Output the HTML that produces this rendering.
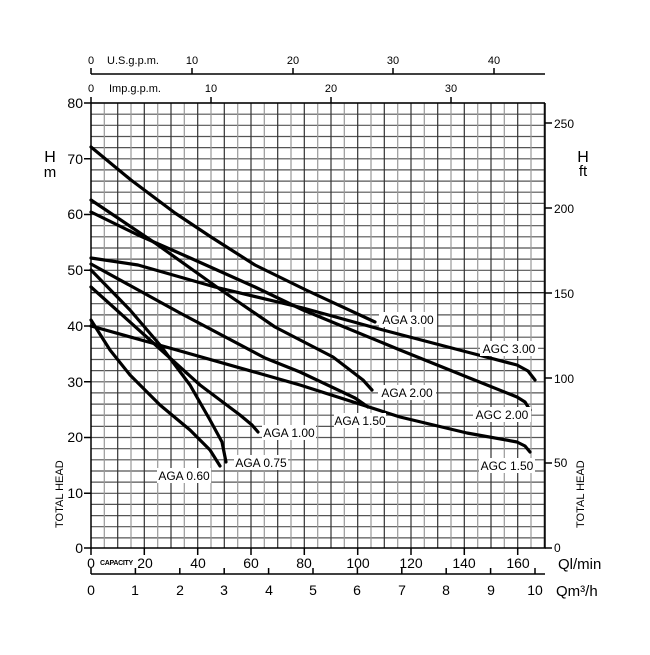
<!DOCTYPE html>
<html><head><meta charset="utf-8"><style>
html,body{margin:0;padding:0;background:#fff}
text{font-family:"Liberation Sans",sans-serif;fill:#000}
</style></head><body>
<svg width="650" height="650" viewBox="0 0 650 650" xmlns="http://www.w3.org/2000/svg">
<g stroke="#555" stroke-width="1.2">
<path d="M91 103.0H545M91 114.2H545M91 125.3H545M91 136.5H545M91 147.6H545M91 158.8H545M91 169.9H545M91 181.1H545M91 192.2H545M91 203.4H545M91 214.5H545M91 225.7H545M91 236.8H545M91 248.0H545M91 259.1H545M91 270.3H545M91 281.4H545M91 292.6H545M91 303.7H545M91 314.9H545M91 326.0H545M91 337.2H545M91 348.3H545M91 359.5H545M91 370.6H545M91 381.8H545M91 392.9H545M91 404.1H545M91 415.2H545M91 426.4H545M91 437.5H545M91 448.7H545M91 459.8H545M91 471.0H545M91 482.1H545M91 493.3H545M91 504.4H545M91 515.6H545M91 526.7H545M91 537.9H545"/>
</g>
<g stroke="#333" stroke-width="1.2">
<path d="M117.7 103V548M144.3 103V548M171 103V548M197.7 103V548M224.3 103V548M251 103V548M277.7 103V548M304.3 103V548M331 103V548M357.7 103V548M384.3 103V548M411 103V548M437.7 103V548M464.3 103V548M491 103V548M517.7 103V548M544.3 103V548"/>
</g>
<g stroke="#999" stroke-width="1.2">
<path d="M104.3 103V548M131 103V548M157.7 103V548M184.3 103V548M211 103V548M237.7 103V548M264.3 103V548M291 103V548M317.7 103V548M344.3 103V548M371 103V548M397.7 103V548M424.3 103V548M451 103V548M477.7 103V548M504.3 103V548M531 103V548"/>
</g>
<path d="M91 292.6H545" stroke="#222" stroke-width="1.2"/>
<g stroke="#000" stroke-width="1.5" fill="none">
<path d="M91 103V548H545V103"/>
<path d="M91 103H545"/>
<path d="M84 103H91M84 158.8H91M84 214.5H91M84 270.3H91M84 326H91M84 381.8H91M84 437.5H91M84 493.3H91M84 548H91"/>
<path d="M545 548H552M545 463H552M545 378H552M545 293H552M545 208H552M545 123H552"/>
<path d="M91 548V555M144.3 548V555M197.7 548V555M251 548V555M304.3 548V555M357.7 548V555M411 548V555M464.3 548V555M517.7 548V555"/>
<path d="M91 574H545M91 574V568M135.4 574V568M179.8 574V568M224.2 574V568M268.6 574V568M313 574V568M357.4 574V568M401.8 574V568M446.2 574V568M490.6 574V568M535 574V568"/>
<path d="M91 74H545M91 74V68M192 74V68M293 74V68M393 74V68M494 74V68"/>
<path d="M91 103V97M211 103V97M331 103V97M451 103V97"/>
</g>
<g font-size="14" text-anchor="end">
<text x="83" y="108">80</text><text x="83" y="164">70</text><text x="83" y="219">60</text><text x="83" y="275">50</text><text x="83" y="331">40</text><text x="83" y="387">30</text><text x="83" y="442">20</text><text x="83" y="498">10</text><text x="83" y="553">0</text>
</g>
<g font-size="12">
<text x="554" y="552">0</text><text x="554" y="467">50</text><text x="554" y="383">100</text><text x="554" y="298">150</text><text x="554" y="213">200</text><text x="554" y="128">250</text>
</g>
<g font-size="14" text-anchor="middle">
<text x="91" y="568">0</text><text x="145" y="568">20</text><text x="198" y="568">40</text><text x="251" y="568">60</text><text x="304" y="568">80</text><text x="358" y="568">100</text><text x="411" y="568">120</text><text x="464" y="568">140</text><text x="518" y="568">160</text>
<text x="91" y="595">0</text><text x="135" y="595">1</text><text x="180" y="595">2</text><text x="224" y="595">3</text><text x="269" y="595">4</text><text x="313" y="595">5</text><text x="357" y="595">6</text><text x="402" y="595">7</text><text x="446" y="595">8</text><text x="491" y="595">9</text><text x="535" y="595">10</text>
</g>
<text x="100" y="565" font-size="7" font-weight="bold" letter-spacing="-0.3">CAPACITY</text>
<text x="558" y="569" font-size="15">Ql/min</text>
<text x="556" y="596" font-size="15">Qm³/h</text>
<g font-size="11" text-anchor="middle">
<text x="91" y="64">0</text><text x="192" y="64">10</text><text x="293" y="64">20</text><text x="393" y="64">30</text><text x="494" y="64">40</text>
<text x="91" y="92">0</text><text x="211" y="92">10</text><text x="331" y="92">20</text><text x="451" y="92">30</text>
</g>
<text x="107" y="64" font-size="11">U.S.g.p.m.</text>
<text x="109" y="92" font-size="11">Imp.g.p.m.</text>
<text x="50" y="162" font-size="16" text-anchor="middle">H</text>
<text x="50" y="177" font-size="15" text-anchor="middle">m</text>
<text x="583" y="162" font-size="16" text-anchor="middle">H</text>
<text x="583" y="176" font-size="15" text-anchor="middle">ft</text>
<text transform="translate(63,528) rotate(-90)" font-size="11">TOTAL HEAD</text>
<text transform="translate(584,528) rotate(-90)" font-size="11">TOTAL HEAD</text>
<g fill="none" stroke="#000" stroke-width="3.2" stroke-linejoin="round" stroke-linecap="round">
<polyline points="91,147 131,180 175,213 211,237 255,265 306,290 375,322"/>
<polyline points="91,200 155,243 221,290 275,327 333,357 363,380 372,390"/>
<polyline points="91,212 138,235 188,257 255,287 303,310 400,350 467,377 517,397 525,402 530,410"/>
<polyline points="91,258 138,265 215,287 303,308 383,330 467,352 517,365 528,371 535,380"/>
<polyline points="91,264 180,313 265,358 300,372 355,398 368,407"/>
<polyline points="91,326 152,343 265,375 300,385 400,417 467,433 517,442 525,446 530,452"/>
<polyline points="91,270 130,310 160,345 190,385 210,420 222,442 226,462"/>
<polyline points="91,287 150,340 200,385 240,415 252,425 258,432"/>
<polyline points="91,320 110,350 130,375 160,405 190,430 210,450 220,466"/>
</g>
<g font-size="12" text-anchor="middle">
<rect x="379" y="312" width="58" height="15" fill="#fff"/><text x="408" y="324">AGA  3.00</text>
<rect x="480" y="341" width="58" height="15" fill="#fff"/><text x="509" y="353">AGC  3.00</text>
<rect x="378" y="385" width="58" height="15" fill="#fff"/><text x="407" y="397">AGA  2.00</text>
<rect x="473" y="407" width="58" height="15" fill="#fff"/><text x="502" y="419">AGC  2.00</text>
<rect x="334" y="413" width="52" height="15" fill="#fff"/><text x="360" y="425">AGA  1.50</text>
<rect x="479" y="458" width="56" height="15" fill="#fff"/><text x="507" y="470">AGC  1.50</text>
<rect x="262" y="425" width="54" height="15" fill="#fff"/><text x="289" y="437">AGA  1.00</text>
<rect x="234" y="455" width="54" height="15" fill="#fff"/><text x="261" y="467">AGA  0.75</text>
<rect x="157" y="468" width="54" height="15" fill="#fff"/><text x="184" y="480">AGA  0.60</text>
</g>
</svg>
</body></html>
